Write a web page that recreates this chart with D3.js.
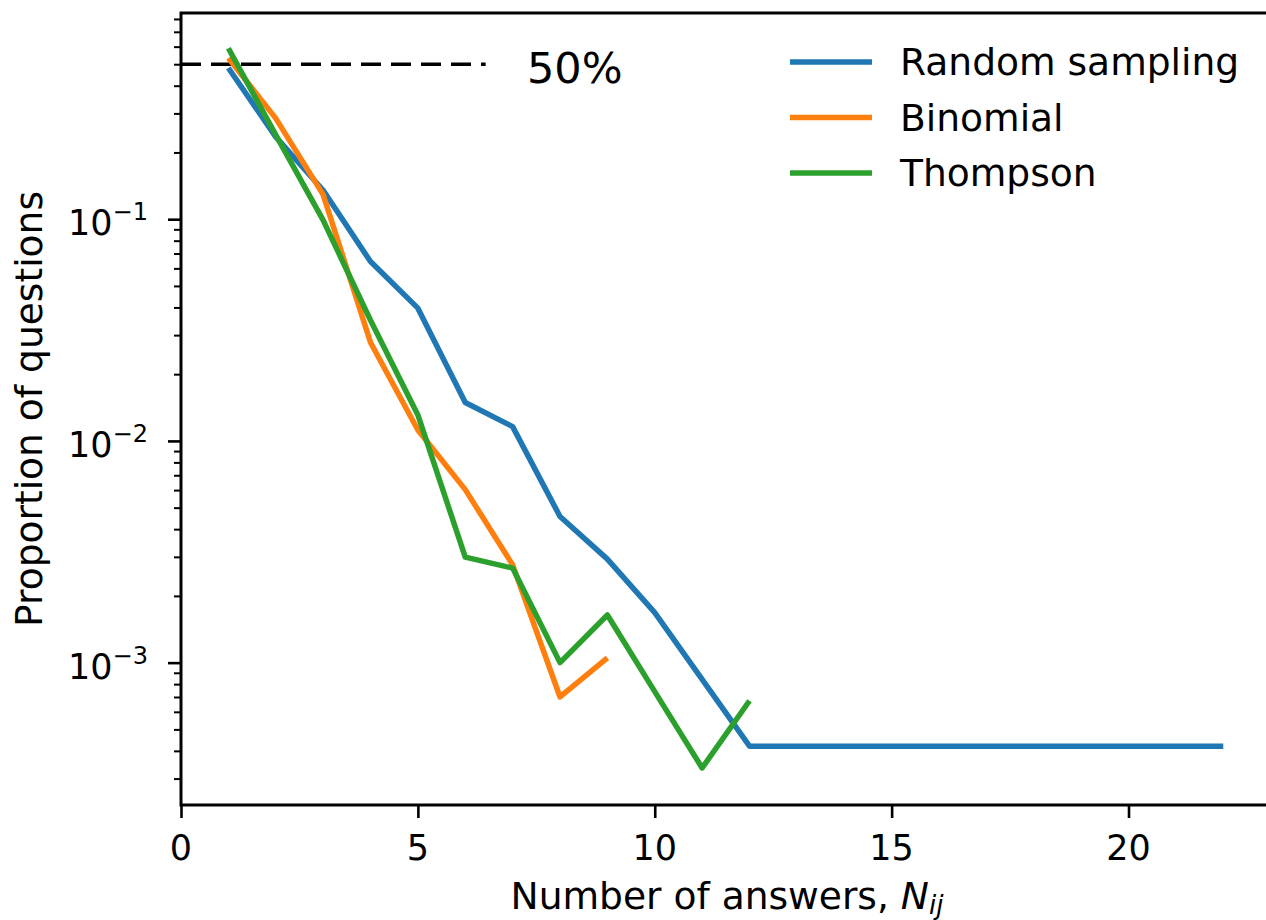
<!DOCTYPE html>
<html>
<head>
<meta charset="utf-8">
<script src="https://cdn.jsdelivr.net/npm/d3@7"></script>
<style>
  body { margin: 0; background: #fff; }
  svg { font-family: "DejaVu Sans", sans-serif; display: block; }
</style>
</head>
<body>
<div class="vis-lines"></div>
<script>
// values
const answers = [1, 2, 3, 4, 5, 6, 7, 8, 9, 10, 11, 12, 22];
const randomSampling = [0.481, 0.235, 0.135, 0.0644, 0.0397, 0.0149, 0.0116, 0.00456, 0.00293, 0.00168, 0.00084, 0.00042, 0.00042];
const binomialX = [1, 2, 3, 4, 5, 6, 7, 8, 9];
const binomial = [0.533, 0.285, 0.129, 0.0278, 0.0112, 0.00603, 0.00276, 0.00070, 0.00105];
const thompsonX = [1, 2, 3, 4, 5, 6, 7, 8, 9, 10, 11, 12];
const thompson = [0.59, 0.24, 0.099, 0.035, 0.0131, 0.00299, 0.00267, 0.00100, 0.00164, 0.00074, 0.000335, 0.000673];
const seriesNames = ["Random sampling", "Binomial", "Thompson"];
const xTicks = [0, 5, 10, 15, 20];
const yTicks = [1e-1, 1e-2, 1e-3];
const yTickExp = ["\u22121", "\u22122", "\u22123"];
const refLevel = 0.5;
const refLabel = "50%";

const draw = () => {
    const W = 1266, H = 920;
    const left = 181, right = 1273, top = 13, bottom = 805;

    const svg = d3.select('.vis-lines')
        .append('svg')
        .attr('width', W)
        .attr('height', H);

    const x = d3.scaleLinear().domain([0, 23.05]).range([left, right]);
    const y = d3.scaleLog().domain([2.28e-4, 0.851]).range([bottom, top]);

    const color = d3.scaleOrdinal()
        .domain(seriesNames)
        .range(["#1f77b4", "#ff7f0e", "#2ca02c"]);

    const series = [
        { name: seriesNames[0], xs: answers, ys: randomSampling },
        { name: seriesNames[1], xs: binomialX, ys: binomial },
        { name: seriesNames[2], xs: thompsonX, ys: thompson }
    ];

    // x axis
    const xAxis = svg.append('g')
        .attr('transform', 'translate(0,' + bottom + ')')
        .call(d3.axisBottom(x).tickValues(xTicks).tickSize(13).tickSizeOuter(0).tickFormat(''));
    xAxis.select('.domain').remove();
    xAxis.selectAll('.tick line').attr('stroke-width', 2.6);

    svg.append('g').selectAll('text')
        .data(xTicks)
        .enter().append('text')
        .attr('x', d => x(d))
        .attr('y', 860)
        .attr('text-anchor', 'middle')
        .style('font-size', '35px')
        .text(d => d);

    // y axis, major + minor ticks
    let minor = [];
    for (let e = -4; e <= -1; e++) {
        for (let k = 2; k <= 9; k++) {
            const v = k * Math.pow(10, e);
            if (v > y.domain()[0] && v < y.domain()[1]) minor.push(v);
        }
    }
    const yMinor = svg.append('g')
        .attr('transform', 'translate(' + left + ',0)')
        .call(d3.axisLeft(y).tickValues(minor).tickSize(7).tickSizeOuter(0).tickFormat(''));
    yMinor.select('.domain').remove();
    yMinor.selectAll('.tick line').attr('stroke-width', 2);

    const yMajor = svg.append('g')
        .attr('transform', 'translate(' + left + ',0)')
        .call(d3.axisLeft(y).tickValues(yTicks).tickSize(13).tickSizeOuter(0).tickFormat(''));
    yMajor.select('.domain').remove();
    yMajor.selectAll('.tick line').attr('stroke-width', 2.6);

    const yLab = svg.append('g').selectAll('text')
        .data(yTicks)
        .enter().append('text')
        .attr('x', 148)
        .attr('y', d => y(d) + 16)
        .attr('text-anchor', 'end')
        .style('font-size', '35px');
    yLab.append('tspan').text('10');
    yLab.append('tspan')
        .attr('dy', -15)
        .style('font-size', '24px')
        .text((d, i) => yTickExp[i]);

    // 50% reference line
    svg.append('line')
        .attr('x1', x(0))
        .attr('x2', x(6.43))
        .attr('y1', y(refLevel))
        .attr('y2', y(refLevel))
        .attr('stroke', '#000')
        .attr('stroke-width', 3.5)
        .attr('stroke-dasharray', '20,10');

    svg.append('text')
        .attr('x', 527)
        .attr('y', 83)
        .style('font-size', '43px')
        .text(refLabel);

    // series lines
    const line = d3.line()
        .x(d => x(d[0]))
        .y(d => y(d[1]));

    svg.append('g').selectAll('path')
        .data(series)
        .enter().append('path')
        .attr('d', s => line(s.xs.map((v, i) => [v, s.ys[i]])))
        .attr('fill', 'none')
        .attr('stroke', s => color(s.name))
        .attr('stroke-width', 5.5)
        .attr('stroke-linejoin', 'round');

    // frame (right edge falls outside the picture, as in the reference)
    svg.append('rect')
        .attr('x', left)
        .attr('y', top)
        .attr('width', right - left)
        .attr('height', bottom - top)
        .attr('fill', 'none')
        .attr('stroke', '#000')
        .attr('stroke-width', 3);

    // legend
    const legendG = svg.selectAll('.legend')
        .data(seriesNames)
        .enter().append('g')
        .attr('class', 'legend')
        .attr('transform', (d, i) => 'translate(790,' + (62 + i * 55.5) + ')');

    legendG.append('line')
        .attr('x1', 0)
        .attr('x2', 82)
        .attr('stroke', d => color(d))
        .attr('stroke-width', 5.5);

    legendG.append('text')
        .attr('x', 110)
        .attr('y', 13)
        .style('font-size', '37.6px')
        .text(d => d);

    // axis labels
    const xl = svg.append('text')
        .attr('x', (left + right) / 2)
        .attr('y', 909)
        .attr('text-anchor', 'middle')
        .style('font-size', '37.6px');
    xl.append('tspan').text('Number of answers, ');
    xl.append('tspan').style('font-style', 'italic').text('N');
    xl.append('tspan').attr('dy', 5).style('font-style', 'italic').style('font-size', '26px').text('ij');

    svg.append('text')
        .attr('transform', 'translate(42,' + (top + bottom) / 2 + ') rotate(-90)')
        .attr('text-anchor', 'middle')
        .style('font-size', '37.6px')
        .text('Proportion of questions');
};

draw();
</script>
</body>
</html>
